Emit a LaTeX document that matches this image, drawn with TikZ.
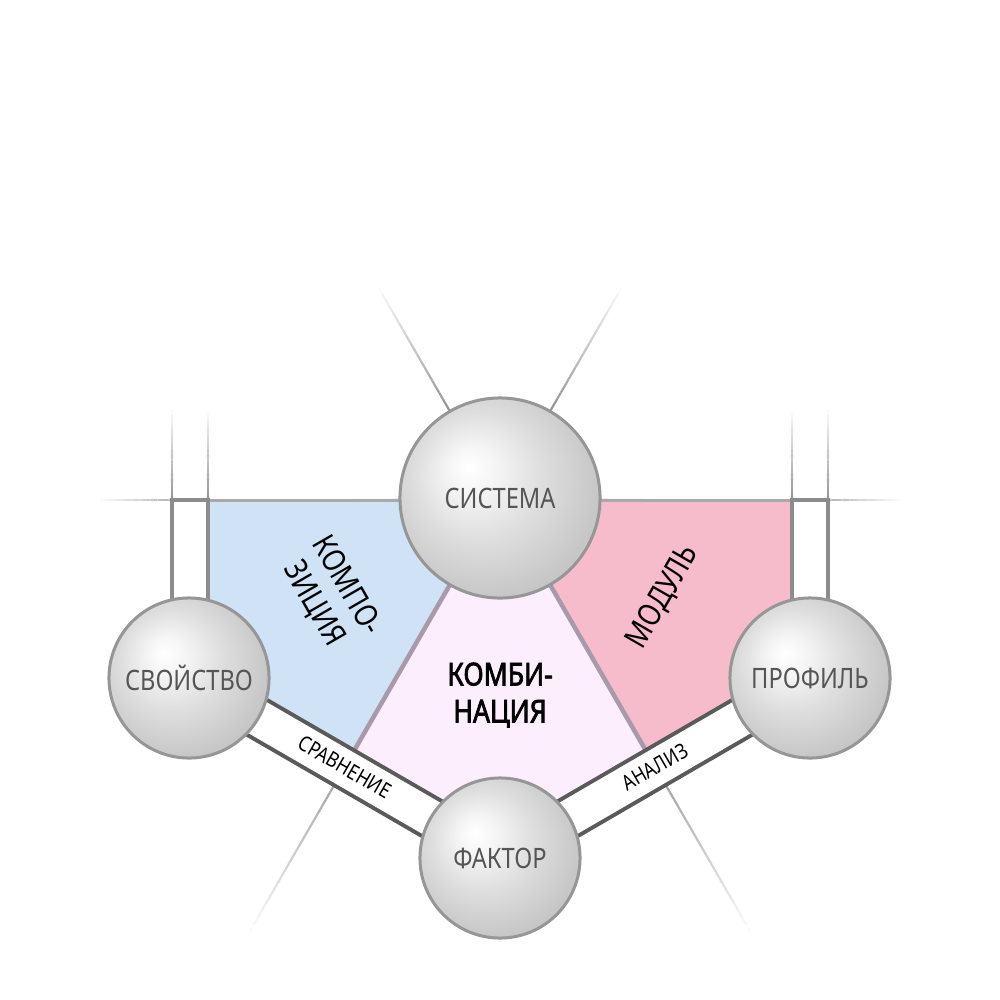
\documentclass[tikz,border=0pt]{standalone}
\usepackage{fontspec}
\setmainfont[FakeStretch=0.84]{Noto Sans}
\newfontfamily\kombfont[FakeStretch=0.84, FakeBold=2.2]{Noto Sans}
\usetikzlibrary{calc}
\definecolor{bluereg}{RGB}{208,226,245}
\definecolor{pinkreg}{RGB}{246,188,203}
\definecolor{kombreg}{RGB}{253,238,253}
\definecolor{divider}{RGB}{169,154,171}
\definecolor{bandgray}{RGB}{90,90,90}
\definecolor{vbandgray}{RGB}{140,140,140}
\definecolor{topline}{RGB}{170,170,170}
\definecolor{fadegray}{RGB}{150,150,150}
\definecolor{ringgray}{RGB}{150,150,150}
\definecolor{labgray}{RGB}{85,85,85}
\pgfdeclareradialshading{myball}{\pgfpoint{-8bp}{8bp}}{color(0bp)=(white); color(6bp)=(gray!8); color(16bp)=(gray!26); color(28bp)=(gray!44); color(36bp)=(gray!52); color(50bp)=(gray!55)}
\pgfdeclarelayer{bg}
\pgfdeclarelayer{bands}
\pgfsetlayers{bg,bands,main}
\newcommand{\fadeseg}[3]{%
  \foreach \i [evaluate=\i as \fa using \i/20, evaluate=\i as \fb using (\i+1)/20, evaluate=\i as \op using 1-\i/20] in {0,...,19}{%
    \draw[#3, draw opacity=\op] ($(#1)!\fa!(#2)$) -- ($(#1)!\fb!(#2)$);}%
}
\tikzset{
  ball/.style={circle, draw=ringgray, line width=0.03cm, shading=myball, inner sep=0pt, text=labgray, font=\fontsize{8}{9}\selectfont},
  bigball/.style={ball, minimum size=2cm},
  smallball/.style={ball, minimum size=1.6cm},
  fadeline/.style={fadegray, line width=0.022cm},
  bandline/.style={draw=bandgray, line width=0.04cm, double=white, double distance=0.36cm},
  vband/.style={draw=vbandgray, line width=0.035cm, fill=white},
  reglabel/.style={align=center, text=black, font=\fontsize{9}{10.5}\selectfont},
  kombilabel/.style={align=center, text=black, font=\kombfont\fontsize{9}{10.5}\selectfont},
  bandlabel/.style={text=black, font=\fontsize{6}{7}\selectfont, inner sep=0pt}
}
\begin{document}
\begin{tikzpicture}[x=0.01cm, y=-0.01cm]
\useasboundingbox (0,0) rectangle (1000,1000);
% circles
\node[bigball] (sys) at (500,498) {СИСТЕМА};
\node[smallball] (svo) at (189,678) {СВОЙСТВО};
\node[smallball] (pro) at (810,678) {ПРОФИЛЬ};
\node[smallball] (fak) at (500,858) {ФАКТОР};
\begin{pgfonlayer}{bg}
% key coordinates
\coordinate (sc) at (sys.center);
\coordinate (ulA) at (450,411.4);
\coordinate (ulB) at (378.5,287.6);
\coordinate (urA) at (550,411.4);
\coordinate (urB) at (621.5,287.6);
\coordinate (llA) at (330,792.4);
\coordinate (llB) at (250,931);
\coordinate (lrA) at (670,792.4);
\coordinate (lrB) at (750,931);
% fading guide lines (X through СИСТЕМА)
\fadeseg{ulA}{ulB}{fadeline}
\fadeseg{urA}{urB}{fadeline}
\draw[fadeline, draw=fadegray!80] (sc) -- (llA);
\draw[fadeline, draw=fadegray!80] (sc) -- (lrA);
\fadeseg{llA}{llB}{fadeline, draw=fadegray!80}
\fadeseg{lrA}{lrB}{fadeline, draw=fadegray!80}
% vertical & horizontal guide lines
\coordinate (v1a) at (172,500); \coordinate (v1b) at (172,410);
\coordinate (v2a) at (208,500); \coordinate (v2b) at (208,410);
\coordinate (v3a) at (792,500); \coordinate (v3b) at (792,410);
\coordinate (v4a) at (828,500); \coordinate (v4b) at (828,410);
\coordinate (h1a) at (172,500); \coordinate (h1b) at (100,500);
\coordinate (h2a) at (828,500); \coordinate (h2b) at (900,500);
\fadeseg{v1a}{v1b}{fadeline}
\fadeseg{v2a}{v2b}{fadeline}
\fadeseg{v3a}{v3b}{fadeline}
\fadeseg{v4a}{v4b}{fadeline}
\fadeseg{h1a}{h1b}{fadeline, draw=fadegray!70}
\fadeseg{h2a}{h2b}{fadeline, draw=fadegray!70}
% regions
\fill[bluereg] (208,500) -- (sc) -- (348.7,760) -- (208,690) -- cycle;
\fill[pinkreg] (792,500) -- (sc) -- (651.3,760) -- (792,690) -- cycle;
\filldraw[fill=kombreg, draw=divider, line width=0.045cm, line join=round] (sc) -- (348.7,760) -- (fak.center) -- (651.3,760) -- cycle;
\draw[topline, line width=0.03cm] (208,500) -- (792,500);
\end{pgfonlayer}
\begin{pgfonlayer}{bands}
\draw[vband] (172,500) rectangle (208,650);
\draw[vband] (792,500) rectangle (828,650);
\draw[bandline] (svo.center) -- (fak.center);
\draw[bandline] (pro.center) -- (fak.center);
\end{pgfonlayer}
% labels
\node[reglabel, rotate=-60] (komp) at (330,595) {КОМПО-\\ЗИЦИЯ};
\node[reglabel, rotate=60] (mod) at (663,597) {МОДУЛЬ};
\node[kombilabel] (komb) at (500,695) {КОМБИ-\\НАЦИЯ};
\node[bandlabel, rotate=-30] (srav) at (345,767) {СРАВНЕНИЕ};
\node[bandlabel, rotate=30] (anal) at (655,767) {АНАЛИЗ};
\end{tikzpicture}
\end{document}
